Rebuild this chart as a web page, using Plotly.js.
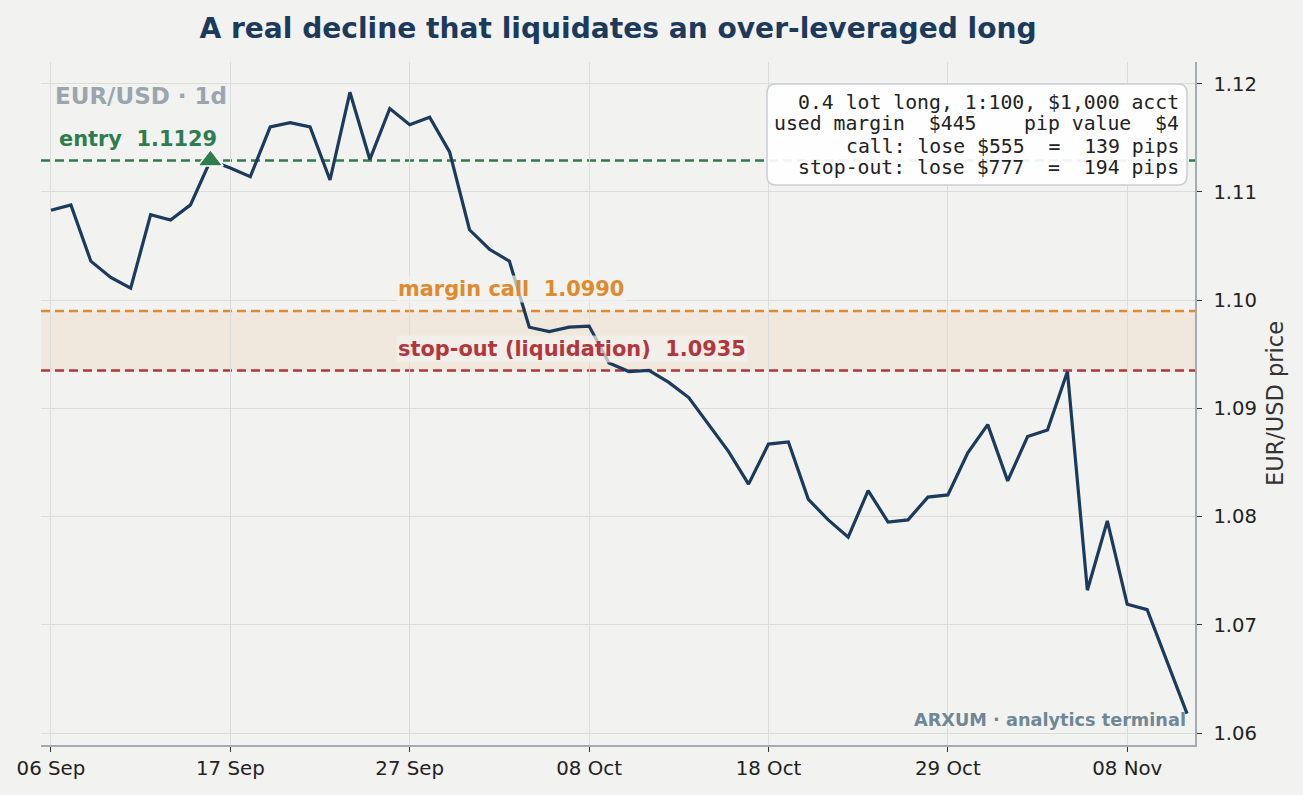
<!DOCTYPE html>
<html>
<head>
<meta charset="utf-8">
<script src="https://cdn.plot.ly/plotly-3.0.1.min.js"></script>
<style>html,body{margin:0;padding:0;background:#f2f2f0;}#chart{width:1303px;height:795px;}</style>
</head>
<body>
<div id="chart"></div>
<script>
// ---- data ----
const dates = ['06 Sep','08 Sep','09 Sep','10 Sep','11 Sep','12 Sep','13 Sep','15 Sep','16 Sep','17 Sep',
  '18 Sep','19 Sep','20 Sep','22 Sep','23 Sep','24 Sep','25 Sep','26 Sep','27 Sep','29 Sep',
  '30 Sep','01 Oct','02 Oct','03 Oct','04 Oct','06 Oct','07 Oct','08 Oct','09 Oct','10 Oct',
  '11 Oct','13 Oct','14 Oct','15 Oct','16 Oct','17 Oct','18 Oct','20 Oct','21 Oct','22 Oct',
  '23 Oct','24 Oct','25 Oct','27 Oct','28 Oct','29 Oct','30 Oct','31 Oct','01 Nov','03 Nov',
  '04 Nov','05 Nov','06 Nov','07 Nov','08 Nov','10 Nov','11 Nov','12 Nov'];
const closes = [1.1083,1.1088,1.1036,1.1021,1.1011,1.1079,1.1074,1.1088,1.1129,1.1122,
  1.1114,1.1160,1.1164,1.1160,1.1111,1.1192,1.1130,1.1177,1.1162,1.1169,
  1.1137,1.1065,1.1047,1.1036,1.0975,1.0971,1.0975,1.0976,1.0942,1.0934,
  1.0935,1.0924,1.0910,1.0885,1.0860,1.0830,1.0867,1.0869,1.0816,1.0797,
  1.0781,1.0824,1.0795,1.0797,1.0818,1.0820,1.0859,1.0885,1.0833,1.0874,
  1.0880,1.0934,1.0732,1.0796,1.0719,1.0714,1.0666,1.0618];
const xTickLabels = ['06 Sep','17 Sep','27 Sep','08 Oct','18 Oct','29 Oct','08 Nov'];
const yTickValues = [1.06,1.07,1.08,1.09,1.10,1.11,1.12];
const entryDate = '16 Sep';
const entryLevel = 1.1129;
const marginCallLevel = 1.0990;
const stopOutLevel = 1.0935;
const infoLines = [
  '0.4 lot long, 1:100, $1,000 acct',
  'used margin  $445    pip value  $4',
  'call: lose $555  =  139 pips',
  'stop-out: lose $777  =  194 pips'
];

// ---- styling / layout helpers ----
const BG = '#f2f2f0';
const NAVY = '#1b3a5c';
const GREEN = '#2e7d4e';
const ORANGE = '#e08a2e';
const RED = '#b5363a';
const FONT = 'DejaVu Sans, Verdana, sans-serif';
const W = 1303, H = 795;
const L = 41, R = 1195, T = 62, B = 745;
const fx = p => (p - L) / (R - L);
const fy = q => (B - q) / (B - T);

function roundRectPath(x0, y0, x1, y1, r) {
  const P = (x, y) => fx(x) + ',' + fy(y);
  return 'M' + P(x0 + r, y0) + ' L' + P(x1 - r, y0) + ' Q' + P(x1, y0) + ' ' + P(x1, y0 + r) +
    ' L' + P(x1, y1 - r) + ' Q' + P(x1, y1) + ' ' + P(x1 - r, y1) +
    ' L' + P(x0 + r, y1) + ' Q' + P(x0, y1) + ' ' + P(x0, y1 - r) +
    ' L' + P(x0, y0 + r) + ' Q' + P(x0, y0) + ' ' + P(x0 + r, y0) + ' Z';
}
const nb = s => s.replace(/ /g, '\u00a0');

const traces = [
  {
    x: dates, y: closes, type: 'scatter', mode: 'lines',
    line: {color: NAVY, width: 3.2}, hoverinfo: 'skip', showlegend: false
  },
  {
    x: [entryDate], y: [entryLevel], type: 'scatter', mode: 'markers',
    marker: {symbol: 'triangle-up', size: 22, color: GREEN, line: {color: '#ffffff', width: 1.5}},
    hoverinfo: 'skip', showlegend: false
  }
];

const shapes = [
  {type: 'rect', xref: 'paper', yref: 'y', x0: 0, x1: 1, y0: stopOutLevel, y1: marginCallLevel,
    fillcolor: 'rgba(230,140,60,0.10)', line: {width: 0}, layer: 'below'},
  {type: 'line', xref: 'paper', yref: 'y', x0: 0, x1: 1, y0: entryLevel, y1: entryLevel,
    line: {color: GREEN, width: 2.4, dash: '9px,5px'}, layer: 'below'},
  {type: 'line', xref: 'paper', yref: 'y', x0: 0, x1: 1, y0: marginCallLevel, y1: marginCallLevel,
    line: {color: ORANGE, width: 2.4, dash: '9px,5px'}, layer: 'below'},
  {type: 'line', xref: 'paper', yref: 'y', x0: 0, x1: 1, y0: stopOutLevel, y1: stopOutLevel,
    line: {color: RED, width: 2.4, dash: '9px,5px'}, layer: 'below'},
  {type: 'path', xref: 'paper', yref: 'paper', path: roundRectPath(767, 84, 1187, 185, 9),
    fillcolor: 'rgba(255,255,255,0.92)', line: {color: '#c9ced3', width: 1.5}, layer: 'above'}
];

const annotations = [
  {xref: 'paper', yref: 'paper', x: fx(53), y: fy(96), xanchor: 'left', yanchor: 'middle', showarrow: false,
    text: 'EUR/USD · 1d', font: {family: FONT, size: 23, color: '#9aa5ae', weight: 'bold'}},
  {xref: 'paper', yref: 'paper', x: fx(57), y: fy(139), xanchor: 'left', yanchor: 'middle', showarrow: false,
    text: nb('entry  ' + entryLevel.toFixed(4)), font: {family: FONT, size: 20.9, color: GREEN, weight: 'bold'}},
  {xref: 'paper', yref: 'paper', x: fx(396), y: fy(289), xanchor: 'left', yanchor: 'middle', showarrow: false,
    text: nb('margin call  ' + marginCallLevel.toFixed(4)), bgcolor: 'rgba(242,242,240,0.7)',
    font: {family: FONT, size: 20.9, color: ORANGE, weight: 'bold'}},
  {xref: 'paper', yref: 'paper', x: fx(396), y: fy(349), xanchor: 'left', yanchor: 'middle', showarrow: false,
    text: nb('stop-out (liquidation)  ' + stopOutLevel.toFixed(4)), bgcolor: 'rgba(242,242,240,0.7)',
    font: {family: FONT, size: 20.9, color: RED, weight: 'bold'}},
  {xref: 'paper', yref: 'paper', x: fx(1188), y: fy(720), xanchor: 'right', yanchor: 'middle', showarrow: false,
    text: 'ARXUM · analytics terminal', font: {family: FONT, size: 17.7, color: '#6f8796', weight: 'bold'}}
];
const lineCentres = [102, 124, 146, 168];
infoLines.forEach((t, i) => {
  annotations.push({xref: 'paper', yref: 'paper', x: fx(1181), y: fy(lineCentres[i]), xanchor: 'right', yanchor: 'middle',
    showarrow: false, text: nb(t), font: {family: 'DejaVu Sans Mono, monospace', size: 19.8, color: '#222222'}});
});

const layout = {
  width: W, height: H,
  paper_bgcolor: BG, plot_bgcolor: BG,
  margin: {l: L, r: W - R, t: T, b: H - B, pad: 0},
  showlegend: false,
  title: {text: 'A real decline that liquidates an over-leveraged long', x: 0.5, xref: 'paper', xanchor: 'center',
    y: 1 - 28 / H, yref: 'container', yanchor: 'middle',
    font: {family: FONT, size: 28.1, color: NAVY, weight: 'bold'}},
  xaxis: {
    type: 'category', range: [-0.5, 57.4], tickmode: 'array', tickvals: xTickLabels, ticktext: xTickLabels,
    showgrid: true, gridcolor: '#dcdcdc', gridwidth: 1, zeroline: false,
    showline: true, linecolor: '#a3abb3', linewidth: 1.5, mirror: false,
    ticks: 'outside', ticklen: 5, tickwidth: 1, tickcolor: '#333',
    tickfont: {family: FONT, size: 19.8, color: '#222'}, fixedrange: true
  },
  yaxis: {
    side: 'right', range: [1.0589, 1.1220], tickmode: 'array', tickvals: yTickValues,
    ticktext: yTickValues.map(v => v.toFixed(2)),
    showgrid: true, gridcolor: '#dcdcdc', gridwidth: 1, zeroline: false,
    showline: true, linecolor: '#a3abb3', linewidth: 1.5,
    ticks: 'outside', ticklen: 5, tickwidth: 1, tickcolor: '#333',
    tickfont: {family: FONT, size: 19.6, color: '#222'}, ticklabelstandoff: 8,
    title: {text: 'EUR/USD price', font: {family: FONT, size: 22.5, color: '#333'}, standoff: 11},
    fixedrange: true
  },
  shapes: shapes,
  annotations: annotations
};

Plotly.newPlot('chart', traces, layout, {displayModeBar: false, staticPlot: true});
</script>
</body>
</html>
